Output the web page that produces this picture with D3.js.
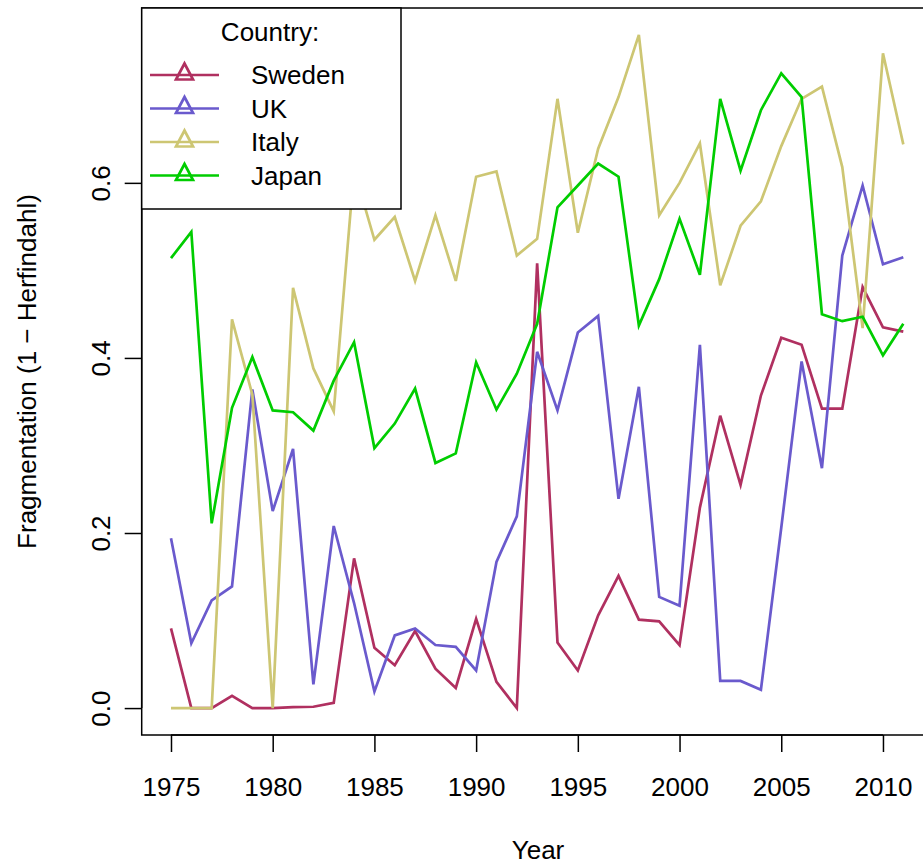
<!DOCTYPE html>
<html>
<head>
<meta charset="utf-8">
<script src="https://cdn.jsdelivr.net/npm/d3@7"></script>
<style>
html,body{margin:0;padding:0;background:#fff;}
svg{display:block;}
text{font-family:"Liberation Sans",Arial,Helvetica,sans-serif;fill:#000;}
</style>
</head>
<body>
<svg id="chart" width="923" height="865"></svg>
<script>
const years = d3.range(1975, 2012);
const countries = ["Sweden", "UK", "Italy", "Japan"];
const colors = ["#B03060", "#6A5ACD", "#CDC673", "#00CD00"];
const sweden = [0.091,0,0,0.014,0,0,0.001,0.0015,0.006,0.171,
  0.069,0.049,0.088,0.045,0.023,0.102,0.030,0,0.508,0.075,
  0.043,0.106,0.151,0.101,0.099,0.072,0.229,0.334,0.255,0.357,
  0.423,0.415,0.342,0.342,0.481,0.435,0.430];
const uk = [0.194,0.074,0.123,0.139,0.364,0.225,0.296,0.027,0.208,0.120,
  0.019,0.083,0.091,0.072,0.070,0.043,0.167,0.219,0.407,0.340,
  0.429,0.448,0.239,0.367,0.127,0.117,0.415,0.031,0.031,0.021,
  0.206,0.396,0.274,0.517,0.597,0.507,0.515];
const italy = [0,0,0,0.444,0.358,0,0.480,0.388,0.339,0.615,
  0.535,0.561,0.488,0.563,0.488,0.607,0.613,0.517,0.536,0.696,
  0.543,0.639,0.698,0.769,0.563,0.600,0.645,0.483,0.551,0.579,
  0.642,0.696,0.710,0.618,0.434,0.748,0.644];
const japan = [0.514,0.544,0.211,0.343,0.401,0.340,0.338,0.317,0.374,0.418,
  0.297,0.325,0.365,0.280,0.291,0.395,0.341,0.382,0.439,0.572,
  0.597,0.622,0.607,0.437,0.490,0.559,0.495,0.696,0.614,0.683,
  0.725,0.698,0.450,0.442,0.447,0.403,0.439];
const xTicks = [1975,1980,1985,1990,1995,2000,2005,2010];
const yTicks = [0, 0.2, 0.4, 0.6];
const xLabel = "Year";
const yLabel = "Fragmentation (1 \u2212 Herfindahl)";
const legendTitle = "Country:";

const seriesValues = [sweden, uk, italy, japan];

const svg = d3.select("#chart");
const L = 141.7, R = 932.6, T = 8, B = 735;
const fs = 26;

// R-style 4% expansion
const xmin = d3.min(years), xmax = d3.max(years);
const allY = seriesValues.flat();
const ymin = d3.min(allY), ymax = d3.max(allY);
const xr = xmax - xmin, yr = ymax - ymin;
const x = d3.scaleLinear().domain([xmin - 0.04*xr, xmax + 0.04*xr]).range([L, R]);
const y = d3.scaleLinear().domain([ymin - 0.04*yr, ymax + 0.04*yr]).range([B, T]);

svg.append("defs").append("clipPath").attr("id","clip")
  .append("rect").attr("x",L).attr("y",T).attr("width",R-L).attr("height",B-T);

const line = d3.line().x((d,i)=>x(years[i])).y(d=>y(d));
const g = svg.append("g").attr("clip-path","url(#clip)");
seriesValues.forEach((vals, k) => {
  g.append("path").datum(vals)
    .attr("d", line)
    .attr("fill","none")
    .attr("stroke", colors[k])
    .attr("stroke-width", 2.7)
    .attr("stroke-linejoin","miter")
    .attr("stroke-linecap","butt");
});

// Box
svg.append("rect").attr("x",L).attr("y",T).attr("width",R-L).attr("height",B-T)
  .attr("fill","none").attr("stroke","#000").attr("stroke-width",1.5);

// X axis
const xAxis = d3.axisBottom(x).tickValues(xTicks).tickFormat(d3.format("d")).tickSize(17).tickPadding(0);
const gx = svg.append("g").attr("transform",`translate(0,${B})`).call(xAxis);
gx.select(".domain").attr("d", `M${x(xTicks[0])},0H${x(xTicks[xTicks.length-1])}`).attr("stroke","#000").attr("stroke-width",1.5);
gx.selectAll(".tick line").attr("stroke","#000").attr("stroke-width",1.5);
gx.selectAll(".tick text").attr("font-size",fs).attr("font-family","Liberation Sans, Arial, sans-serif")
  .attr("y", 52).attr("dy",null).attr("dominant-baseline","central").attr("fill","#000");

// Y axis
const yAxis = d3.axisLeft(y).tickValues(yTicks).tickFormat(d3.format(".1f")).tickSize(17).tickPadding(0);
const gy = svg.append("g").attr("transform",`translate(${L},0)`).call(yAxis);
gy.select(".domain").attr("d", `M0,${y(yTicks[0])}V${y(yTicks[yTicks.length-1])}`).attr("stroke","#000").attr("stroke-width",1.5);
gy.selectAll(".tick line").attr("stroke","#000").attr("stroke-width",1.5);
gy.selectAll(".tick text").attr("font-size",fs).attr("font-family","Liberation Sans, Arial, sans-serif")
  .attr("x",null).attr("dy",null).attr("text-anchor","middle").attr("dominant-baseline","central")
  .attr("transform","translate(-41,0) rotate(-90)").attr("fill","#000");

// Axis titles
svg.append("text").attr("x",538).attr("y",850).attr("text-anchor","middle")
  .attr("dominant-baseline","central").attr("font-size",fs).text(xLabel);
svg.append("text").attr("transform",`translate(27,${(T+B)/2}) rotate(-90)`)
  .attr("text-anchor","middle").attr("dominant-baseline","central").attr("font-size",fs).text(yLabel);

// Legend
const lg = svg.append("g");
lg.append("rect").attr("x",L).attr("y",T).attr("width",401-L).attr("height",209-T)
  .attr("fill","#fff").attr("stroke","#000").attr("stroke-width",1.5);
lg.append("text").attr("x",270).attr("y",32).attr("text-anchor","middle")
  .attr("dominant-baseline","central").attr("font-size",fs).text(legendTitle);
const rowY = [75, 108.5, 142, 175.5];
countries.forEach((c,k) => {
  const cy = rowY[k];
  lg.append("line").attr("x1",150).attr("x2",219).attr("y1",cy).attr("y2",cy)
    .attr("stroke",colors[k]).attr("stroke-width",2.7);
  const cx = 184.5;
  lg.append("path").attr("d",`M${cx},${cy-11.5}L${cx+8.5},${cy+4.5}L${cx-8.5},${cy+4.5}Z`)
    .attr("fill","none").attr("stroke",colors[k]).attr("stroke-width",2.7);
  lg.append("text").attr("x",251).attr("y",cy).attr("dominant-baseline","central")
    .attr("font-size",fs).text(c);
});
</script>
</body>
</html>
